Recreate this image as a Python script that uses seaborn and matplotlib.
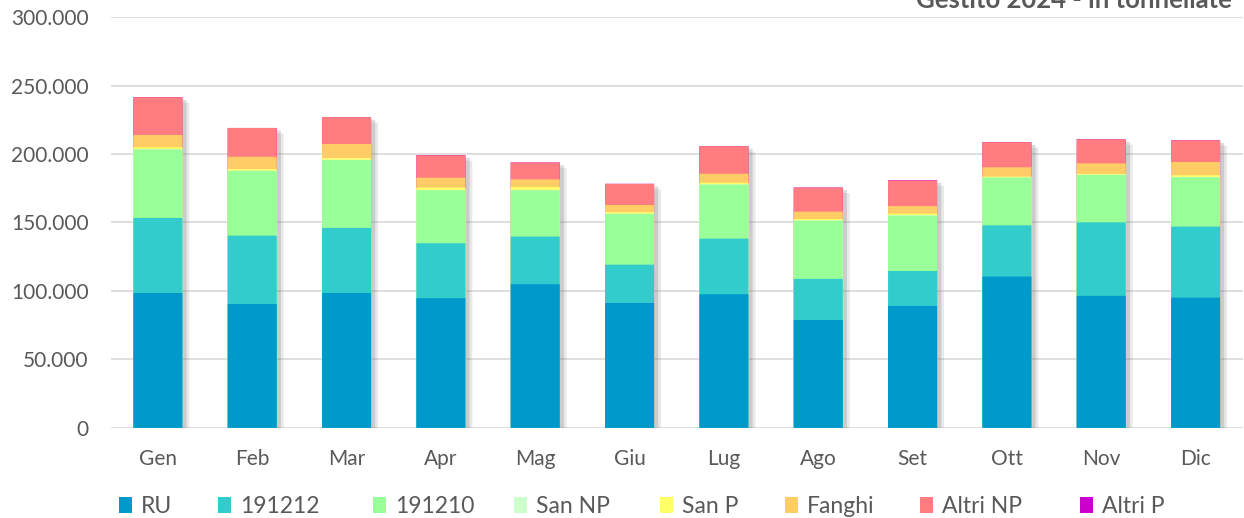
import numpy as np
import pandas as pd
import matplotlib
matplotlib.use("Agg")
import matplotlib.pyplot as plt
import matplotlib.patheffects as pe
from matplotlib.patches import Patch
import seaborn as sns

# Monthly managed waste, tonnes
months = ['Gen', 'Feb', 'Mar', 'Apr', 'Mag', 'Giu', 'Lug', 'Ago', 'Set', 'Ott', 'Nov', 'Dic']
ru = [98500, 90500, 98500, 94700, 104900, 91200, 97600, 78800, 89000, 110500, 96400, 95100]
c191212 = [54800, 49900, 47500, 40100, 34800, 28000, 40600, 30000, 25600, 37400, 53700, 51900]
c191210 = [50000, 47200, 49600, 38700, 33800, 37000, 39400, 42500, 40400, 34800, 34600, 36000]
san_np = [300, 300, 300, 300, 300, 300, 300, 300, 300, 300, 300, 300]
san_p = [1400, 1100, 1100, 1700, 2200, 1000, 1100, 900, 1200, 500, 500, 1200]
fanghi = [8900, 9000, 10300, 7200, 5500, 5300, 6600, 5400, 5500, 6800, 7700, 9700]
altri_np = [27500, 21000, 19700, 16400, 12300, 15400, 20200, 17600, 18600, 18300, 17600, 15800]
altri_p = [50, 50, 50, 150, 50, 50, 50, 50, 250, 50, 50, 50]

series_names = ['RU', '191212', '191210', 'San NP', 'San P', 'Fanghi', 'Altri NP', 'Altri P']
series_colors = ['#0099CC', '#33CCCC', '#99FF99', '#CCFFCC', '#FFFF66', '#FFCC66', '#FF7C80', '#CC00CC']

df = pd.DataFrame(dict(zip(series_names, [ru, c191212, c191210, san_np, san_p, fanghi, altri_np, altri_p])))
df['Mese'] = months

sns.set_theme(style='white')
plt.rcParams['font.family'] = ['Lato', 'DejaVu Sans']

fig = plt.figure(figsize=(12.44, 5.18), dpi=100)
ax = fig.add_axes([0.089, 0.174, 0.910, 0.793])

# stacked bars: draw cumulative totals from the top layer down
cum = df[series_names].cumsum(axis=1)
for i in range(len(series_names) - 1, -1, -1):
    name = series_names[i]
    sns.barplot(x=df['Mese'], y=cum[name], color=series_colors[i], width=0.52,
                saturation=1, linewidth=0, ax=ax, zorder=3)

for p in ax.patches:
    p.set_snap(False)

# soft drop shadow on the full stack (first drawn set of bars)
for p in ax.patches[:len(months)]:
    p.set_path_effects([pe.SimplePatchShadow(offset=(5, -4), shadow_rgbFace='#888888', alpha=0.18),
                        pe.SimplePatchShadow(offset=(3, -2), shadow_rgbFace='#777777', alpha=0.25),
                        pe.Normal()])

ax.set_ylim(0, 300000)
ax.set_yticks(np.arange(0, 300001, 50000))
ax.yaxis.set_major_formatter(matplotlib.ticker.FuncFormatter(
    lambda v, _: '0' if v == 0 else f'{int(v):,}'.replace(',', '.')))
ax.grid(axis='y', color='#D9D9D9', linewidth=1.2, zorder=0)
ax.set_axisbelow(True)
for s in ax.spines.values():
    s.set_visible(False)
ax.tick_params(axis='both', length=0, labelsize=15, labelcolor='#595959')
ax.tick_params(axis='y', pad=16)
ax.tick_params(axis='x', pad=15)
ax.set_xlabel('')
ax.set_ylabel('')

# legend entries placed one by one, like the spreadsheet legend
legend_x = [119, 218, 373, 514, 660, 785, 920, 1080]
for name, color, x in zip(series_names, series_colors, legend_x):
    leg = fig.legend([Patch(facecolor=color, edgecolor='none')], [name], loc='center left',
                     bbox_to_anchor=(x / 1244, 0.023), frameon=False, fontsize=16.5,
                     labelcolor='#595959', handlelength=0.55, handleheight=0.7,
                     handletextpad=0.4, borderpad=0, borderaxespad=0)

fig.text(0.99, 1 - 8 / 518, 'Gestito 2024 - in tonnellate', ha='right', va='baseline',
         fontsize=18.5, fontweight='bold', color='#595959')

fig.savefig('out.png', dpi=100)
